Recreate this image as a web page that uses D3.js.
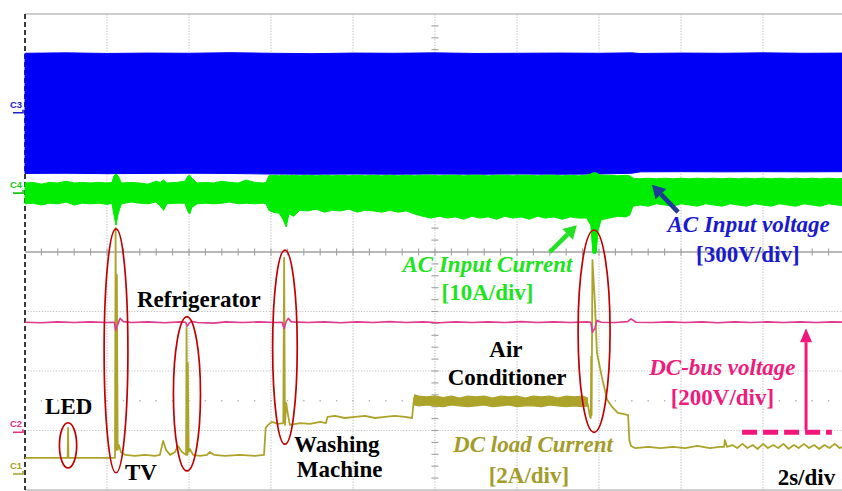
<!DOCTYPE html>
<html>
<head>
<meta charset="utf-8">
<script src="https://cdn.jsdelivr.net/npm/d3@7"></script>
<style>
  html, body { margin: 0; padding: 0; background: #fff; }
  svg { display: block; }
  .lbl { font-family: "Liberation Serif", "Times New Roman", serif; font-weight: bold; font-size: 23px; }
  .it { font-style: italic; }
  .ch { font-family: "Liberation Sans", Arial, sans-serif; font-size: 9.5px; font-weight: bold; }
</style>
</head>
<body>
<svg id="scope" width="842" height="491"></svg>
<script>
// ---- Time base and channel settings -------------------------------------
const timeRange = [0, 20];            // s  (2 s/div, 10 divisions)
const divRange = [-4, 4];             // vertical divisions, centre = 0
const timeTicks = [0, 2, 4, 6, 8, 10, 12, 14, 16, 18, 20];

// volts (or amps) per division and ground marker position (divisions from centre)
const c1PerDiv = 2,   c1Offset = -3.73;   // DC load current  [A]
const c2PerDiv = 200, c2Offset = -3.03;   // DC-bus voltage   [V]
const c3PerDiv = 300, c3Offset = 2.34;    // AC input voltage [V]
const c4PerDiv = 10,  c4Offset = 0.99;    // AC input current [A]

// ---- C3: AC input voltage envelope  [t (s), +peak (V), -peak (V)] --------
const acVoltage = [
  [0, 300, -306], [1, 302, -305], [2, 299, -307], [3, 301, -306], [4, 300, -305],
  [5, 303, -306], [6, 300, -309], [7, 298, -310], [8, 301, -309], [9, 300, -310],
  [10, 302, -309], [11, 299, -310], [12, 300, -309], [13, 301, -310], [14, 300, -309],
  [14.8, 302, -305], [15, 299, -298], [16, 301, -297], [17, 300, -298], [18, 302, -297],
  [19, 300, -298], [20, 301, -297]
];

// ---- C4: AC input current envelope  [t (s), upper (A), lower (A)] --------
const acCurrent = [
  [0, 1.7, -1.8], [0.2, 1.8, -1.7], [0.4, 1.5, -2.0], [0.6, 1.8, -1.7], [0.8, 1.7, -1.8],
  [1.0, 2.0, -1.5], [1.2, 1.7, -2.0], [1.4, 1.8, -1.7], [1.6, 1.7, -1.8], [1.8, 1.8, -1.7],
  [2.0, 1.7, -1.9], [2.12, 1.8, -1.7], [2.17, 2.9, -3.7], [2.22, 3.2, -5.4], [2.27, 2.9, -3.5],
  [2.35, 1.7, -1.8], [2.6, 1.8, -1.5], [2.8, 1.7, -1.7], [3.0, 1.5, -1.8], [3.2, 2.0, -1.5],
  [3.3, 1.8, -2.2], [3.38, 2.2, -2.9], [3.46, 1.7, -1.8], [3.7, 1.8, -1.7], [3.9, 2.0, -1.7],
  [3.98, 2.9, -3.2], [4.02, 3.0, -3.5], [4.07, 2.5, -2.4], [4.2, 1.7, -1.8], [4.4, 1.8, -1.7],
  [4.6, 1.7, -1.8], [4.8, 2.0, -1.7], [5.0, 1.8, -1.5], [5.2, 1.7, -1.8], [5.4, 2.2, -1.7],
  [5.6, 1.8, -1.8], [5.8, 1.7, -1.7], [5.88, 1.8, -1.8], [5.95, 2.9, -2.9], [6.05, 3.0, -3.2],
  [6.2, 2.9, -3.4], [6.3, 3.0, -4.5], [6.37, 3.0, -5.7], [6.44, 2.9, -3.5], [6.55, 3.0, -3.9],
  [6.7, 2.9, -2.9], [6.9, 3.0, -3.0], [7.1, 2.9, -2.7], [7.3, 3.0, -3.2], [7.5, 2.9, -2.9],
  [7.7, 3.0, -3.0], [7.9, 2.9, -2.7], [8.1, 3.0, -3.2], [8.3, 2.9, -2.9], [8.5, 3.0, -3.0],
  [8.7, 2.9, -3.2], [8.9, 3.0, -2.9], [9.1, 2.9, -3.2], [9.3, 3.0, -3.0], [9.5, 2.9, -3.5],
  [9.7, 3.0, -3.9], [9.9, 3.0, -4.2], [10.1, 2.9, -3.9], [10.3, 3.0, -4.2], [10.5, 3.0, -4.0],
  [10.7, 2.9, -4.4], [10.9, 3.0, -3.9], [11.1, 3.0, -4.2], [11.3, 2.9, -4.0], [11.5, 3.0, -4.4],
  [11.7, 3.0, -3.9], [11.9, 2.9, -4.2], [12.1, 3.0, -4.0], [12.3, 3.0, -4.4], [12.5, 2.9, -3.9],
  [12.7, 3.0, -4.2], [12.9, 3.0, -4.0], [13.1, 2.9, -4.4], [13.3, 3.0, -4.0], [13.5, 2.9, -4.2],
  [13.7, 3.0, -4.2], [13.8, 3.2, -5.4], [13.85, 3.4, -10.1], [13.93, 3.4, -10.1], [13.98, 3.2, -6.2],
  [14.05, 3.0, -4.5], [14.25, 3.0, -4.2], [14.45, 2.9, -3.9], [14.65, 3.0, -4.0], [14.75, 2.9, -3.7],
  [14.83, 2.5, -2.2], [15.0, 2.4, -2.0], [15.2, 2.5, -2.2], [15.4, 2.4, -1.8], [15.6, 2.5, -2.0],
  [15.8, 2.4, -2.2], [16.0, 2.5, -1.8], [16.2, 2.4, -2.0], [16.4, 2.5, -2.2], [16.6, 2.4, -1.8],
  [16.8, 2.5, -2.0], [17.0, 2.4, -2.2], [17.2, 2.5, -1.8], [17.4, 2.4, -2.0], [17.6, 2.5, -2.2],
  [17.8, 2.4, -1.8], [18.0, 2.5, -2.0], [18.2, 2.4, -2.2], [18.4, 2.5, -1.8], [18.6, 2.4, -2.0],
  [18.8, 2.5, -2.2], [19.0, 2.4, -1.8], [19.2, 2.5, -2.0], [19.4, 2.4, -2.2], [19.6, 2.5, -1.8],
  [19.8, 2.4, -2.0], [20.0, 2.5, -2.2]
];

// ---- C2: DC-bus voltage  [t (s), V] ----------------------------------------
const dcBus = [
  [0, 370], [0.4, 368], [0.8, 371], [1.2, 369], [1.6, 371], [2.0, 369], [2.18, 370], [2.21, 343],
  [2.26, 362], [2.32, 383], [2.4, 372], [2.6, 369], [3.0, 371], [3.4, 368], [3.8, 371], [3.92, 370],
  [3.95, 356], [4.0, 366], [4.06, 373], [4.2, 369], [4.6, 367], [4.9, 371], [5.3, 369], [5.7, 371],
  [6.1, 369], [6.27, 370], [6.32, 349], [6.37, 372], [6.42, 383], [6.5, 371], [6.9, 369], [7.3, 371],
  [7.7, 368], [8.1, 371], [8.5, 369], [8.9, 372], [9.3, 369], [9.7, 371], [10.1, 368], [10.5, 371],
  [10.9, 369], [11.3, 371], [11.7, 369], [12.1, 372], [12.5, 369], [12.9, 371], [13.3, 369], [13.7, 371],
  [13.8, 370], [13.84, 336], [13.9, 350], [13.95, 376], [14.05, 370], [14.4, 369], [14.7, 372], [14.78, 381],
  [14.9, 370], [15.3, 369], [15.7, 371], [16.1, 369], [16.5, 371], [16.9, 368], [17.3, 371], [17.7, 369],
  [18.1, 371], [18.5, 369], [18.9, 371], [19.3, 369], [19.7, 371], [20, 370]
];

// ---- C1: DC load current  [t (s), A] ---------------------------------------
const dcLoad = [
  [0, 0.54], [1.0, 0.54], [1.04, 0.54], [1.05, 1.55], [1.06, 0.54], [2.195, 0.54],
  [2.21, 8.27], [2.23, 0.81], [2.24, 6.69], [2.26, 0.81], [2.29, 0.97], [2.34, 0.74],
  [2.44, 0.64], [2.68, 0.61], [2.93, 0.64], [3.17, 0.61], [3.29, 0.64], [3.37, 1.11],
  [3.44, 0.81], [3.54, 0.64], [3.66, 0.74], [3.73, 0.94], [3.83, 0.74], [3.93, 0.64],
  [3.94, 4.91], [3.96, 0.64], [3.97, 3.73], [3.99, 0.74], [4.02, 0.84], [4.10, 0.64],
  [4.27, 0.61], [4.44, 0.64], [4.51, 0.74], [4.61, 0.64], [4.88, 0.61], [5.24, 0.64],
  [5.61, 0.61], [5.83, 0.64], [5.87, 1.55], [5.93, 1.65], [6.02, 1.75], [6.17, 1.68],
  [6.30, 1.71], [6.32, 7.26], [6.34, 1.65], [6.37, 2.39], [6.41, 2.02], [6.46, 1.65],
  [6.71, 1.71], [6.95, 1.68], [7.20, 1.75], [7.34, 1.71], [7.38, 1.92], [7.56, 1.95],
  [7.80, 1.88], [8.05, 1.92], [8.29, 1.95], [8.54, 1.88], [8.78, 1.92], [9.02, 1.95],
  [9.27, 1.92], [9.44, 1.88], [9.49, 2.56], [9.54, 2.60], [9.6, 2.45], [10.5, 2.44],
  [11.5, 2.46], [12.5, 2.44], [13.7, 2.42],
  [13.73, 2.32], [13.78, 1.92], [13.80, 1.88], [13.81, 3.94], [13.82, 1.98], [13.84, 7.19],
  [13.90, 5.75], [13.95, 4.07], [14.07, 3.26], [14.20, 2.49], [14.32, 2.25], [14.46, 2.05],
  [14.59, 2.02], [14.71, 1.98], [14.74, 1.14], [14.78, 0.94], [14.88, 0.87], [15.2, 0.91],
  [15.5, 0.87], [15.8, 0.91], [16.1, 0.87], [16.4, 0.94], [16.7, 0.87], [16.95, 0.91],
  [17.05, 0.91], [17.07, 1.14], [17.12, 0.91], [17.25, 0.97], [17.37, 0.87], [17.5, 1.01],
  [17.62, 0.87], [17.75, 0.97], [17.87, 0.84], [18.0, 1.01], [18.12, 0.87], [18.25, 0.97],
  [18.37, 0.87], [18.5, 1.01], [18.62, 0.84], [18.75, 0.97], [18.87, 0.87], [19.0, 1.01],
  [19.12, 0.87], [19.25, 0.97], [19.37, 0.84], [19.5, 0.97], [19.62, 0.87], [19.75, 1.01],
  [19.87, 0.87], [20, 0.94]
];

// ---- C1 ripple while the air conditioner runs  [t (s), upper (A), lower (A)]
const dcLoadRipple = [
  [9.5, 2.66, 2.32], [9.6, 2.62, 2.29], [9.8, 2.59, 2.32], [10.0, 2.62, 2.29], [10.2, 2.57, 2.26],
  [10.4, 2.62, 2.32], [10.6, 2.55, 2.29], [10.8, 2.62, 2.26], [11.0, 2.59, 2.29], [11.2, 2.62, 2.32],
  [11.4, 2.55, 2.26], [11.6, 2.62, 2.29], [11.8, 2.59, 2.32], [12.0, 2.62, 2.26], [12.2, 2.55, 2.29],
  [12.4, 2.62, 2.29], [12.6, 2.59, 2.26], [12.8, 2.62, 2.32], [13.0, 2.55, 2.29], [13.2, 2.62, 2.26],
  [13.4, 2.59, 2.29], [13.6, 2.62, 2.26], [13.72, 2.55, 2.29]
];

// ---- Load events: [name, t centre (s), half width (s), top div, bottom div]
const loadEvents = [
  ["LED", 1.05, 0.21, -2.87, -3.63],
  ["TV", 2.22, 0.29, 0.39, -3.71],
  ["Refrigerator", 3.95, 0.33, -1.09, -3.68],
  ["Washing Machine", 6.34, 0.30, 0.03, -3.23],
  ["Air Conditioner", 13.88, 0.39, 0.37, -3.03]
];

// ---- Text annotations: [text, t (s), div, anchor, colour, italic] --------
const labels = [
  ["LED", 0.49, -2.72, "start", "#000", false],
  ["TV", 2.44, -3.83, "start", "#000", false],
  ["Refrigerator", 2.73, -0.92, "start", "#000", false],
  ["Washing", 6.56, -3.36, "start", "#000", false],
  ["Machine", 6.63, -3.78, "start", "#000", false],
  ["Air", 11.73, -1.76, "middle", "#000", false],
  ["Conditioner", 11.76, -2.24, "middle", "#000", false],
  ["AC Input Current", 11.28, -0.34, "middle", "#1ee41e", true],
  ["[10A/div]", 11.28, -0.81, "middle", "#1ee41e", false],
  ["AC Input voltage", 17.65, 0.34, "middle", "#1a1acd", true],
  ["[300V/div]", 17.63, -0.17, "middle", "#1a1acd", false],
  ["DC-bus voltage", 17.01, -2.07, "middle", "#ee1c7c", true],
  ["[200V/div]", 17.01, -2.57, "middle", "#ee1c7c", false],
  ["DC load Current", 12.39, -3.36, "middle", "#a49c2a", true],
  ["[2A/div]", 12.29, -3.88, "middle", "#a49c2a", false],
  ["2s/div", 19.76, -3.92, "end", "#000", false]
];

// ---- Channel ground markers: [name, offset div, colour] ------------------
const markers = [
  ["C3", c3Offset, "#2020d0"],
  ["C4", c4Offset, "#18c818"],
  ["C2", c2Offset, "#e0308a"],
  ["C1", c1Offset, "#a8a028"]
];

// ---- Scales -----------------------------------------------------------------
const svg = d3.select("#scope");
const x = d3.scaleLinear().domain(timeRange).range([25, 845]);
const yDiv = d3.scaleLinear().domain(divRange).range([490, 14]);
const chanScale = (perDiv, offset) => v => yDiv(offset + v / perDiv);
const y1 = chanScale(c1PerDiv, c1Offset);
const y2 = chanScale(c2PerDiv, c2Offset);
const y3 = chanScale(c3PerDiv, c3Offset);
const y4 = chanScale(c4PerDiv, c4Offset);

// ---- Graticule ---------------------------------------------------------------
const grid = svg.append("g");
const gridColor = "#c4c4c4";
timeTicks.slice(1, -1).forEach(t => {
  grid.append("line").attr("x1", x(t)).attr("x2", x(t)).attr("y1", yDiv(4)).attr("y2", yDiv(-4))
    .attr("stroke", gridColor).attr("stroke-width", 1.2).attr("stroke-dasharray", "1.2,1.6");
});
d3.range(-3, 4).filter(d => d !== 0).forEach(d => {
  grid.append("line").attr("x1", x(0)).attr("x2", 842).attr("y1", yDiv(d)).attr("y2", yDiv(d))
    .attr("stroke", gridColor).attr("stroke-width", 1.2).attr("stroke-dasharray", "1.2,1.6");
});
// sparse dotted half-division row
d3.range(0.4, 20, 0.4).forEach(t => {
  grid.append("rect").attr("x", x(t) - 0.7).attr("y", yDiv(-2.5) - 0.7).attr("width", 1.4).attr("height", 1.4)
    .attr("fill", "#b0b0b0");
});
// centre horizontal axis with minor ticks
grid.append("line").attr("x1", x(0)).attr("x2", 842).attr("y1", yDiv(0)).attr("y2", yDiv(0))
  .attr("stroke", "#a0a0a0").attr("stroke-width", 1.3);
d3.range(0.4, 20, 0.4).forEach(t => {
  grid.append("line").attr("x1", x(t)).attr("x2", x(t)).attr("y1", yDiv(0) - 3.5).attr("y2", yDiv(0) + 3.5)
    .attr("stroke", "#a0a0a0").attr("stroke-width", 1.1);
});
// centre vertical axis ticks
d3.range(-3.8, 4, 0.2).forEach(d => {
  grid.append("line").attr("x1", x(10) - 3.5).attr("x2", x(10) + 3.5).attr("y1", yDiv(d)).attr("y2", yDiv(d))
    .attr("stroke", "#a0a0a0").attr("stroke-width", 1.1);
});
// frame
grid.append("line").attr("x1", x(0)).attr("x2", 842).attr("y1", yDiv(4)).attr("y2", yDiv(4))
  .attr("stroke", "#bcbcbc").attr("stroke-width", 1.6);
grid.append("line").attr("x1", x(0)).attr("x2", 842).attr("y1", yDiv(-4)).attr("y2", yDiv(-4))
  .attr("stroke", "#bcbcbc").attr("stroke-width", 1.6);
grid.append("line").attr("x1", x(0)).attr("x2", x(0)).attr("y1", yDiv(4)).attr("y2", yDiv(-4))
  .attr("stroke", "#3a3a3a").attr("stroke-width", 2).attr("stroke-dasharray", "5,3");

// ---- Channel markers -------------------------------------------------------
markers.forEach(([name, off, col]) => {
  const yy = yDiv(off);
  svg.append("text").attr("class", "ch").attr("x", 10).attr("y", yy - 5).attr("fill", col).text(name);
  svg.append("path").attr("d", `M13,${yy} H23 V${yy - 3}`).attr("fill", "none")
    .attr("stroke", col).attr("stroke-width", 1.6);
});

// ---- Traces ------------------------------------------------------------------
const band = (ys) => d3.area().x(d => x(d[0])).y0(d => ys(d[2])).y1(d => ys(d[1]));
svg.append("path").datum(acVoltage).attr("d", band(y3))
  .attr("fill", "#0000f6").attr("stroke", "#0000f6").attr("stroke-width", 1);
svg.append("path").datum(acCurrent).attr("d", band(y4))
  .attr("fill", "#00ec00").attr("stroke", "#00ec00").attr("stroke-width", 1);

const olive = "#aca42a";
svg.append("path").datum(dcLoadRipple).attr("d", band(y1))
  .attr("fill", olive).attr("stroke", olive).attr("stroke-width", 1.2).attr("stroke-linejoin", "round");
const trace = (ys) => d3.line().x(d => x(d[0])).y(d => ys(d[1]));
svg.append("path").datum(dcLoad).attr("d", trace(y1))
  .attr("fill", "none").attr("stroke", olive).attr("stroke-width", 1.8).attr("stroke-linejoin", "round");
svg.append("path").datum(dcBus).attr("d", trace(y2))
  .attr("fill", "none").attr("stroke", "#e2388c").attr("stroke-width", 1.6).attr("stroke-linejoin", "round");

// ---- Event ellipses -------------------------------------------------------
loadEvents.forEach(([, t, hw, top, bot]) => {
  svg.append("ellipse")
    .attr("cx", x(t)).attr("rx", x(t + hw) - x(t))
    .attr("cy", (yDiv(top) + yDiv(bot)) / 2).attr("ry", (yDiv(bot) - yDiv(top)) / 2)
    .attr("fill", "none").attr("stroke", "#c00000").attr("stroke-width", 1.7);
});

// ---- Arrows --------------------------------------------------------------------
function arrow(x1, yA, x2, yB, col, w, headLen, headW) {
  const ang = Math.atan2(yB - yA, x2 - x1);
  const bx = x2 - headLen * Math.cos(ang), by = yB - headLen * Math.sin(ang);
  svg.append("line").attr("x1", x1).attr("y1", yA).attr("x2", bx).attr("y2", by)
    .attr("stroke", col).attr("stroke-width", w);
  const px = Math.sin(ang) * headW / 2, py = Math.cos(ang) * headW / 2;
  svg.append("polygon")
    .attr("points", `${x2},${yB} ${bx + px},${by - py} ${bx - px},${by + py}`)
    .attr("fill", col);
}
arrow(x(12.8), yDiv(0), x(13.46), yDiv(0.45), "#22e022", 4.5, 13, 15);
arrow(x(15.93), yDiv(0.67), x(15.29), yDiv(1.13), "#1c3c96", 4.5, 13, 15);
arrow(x(19.05), yDiv(-2.99), x(19.05), yDiv(-1.28), "#f0167a", 3, 14, 12);
svg.append("line").attr("x1", x(17.49)).attr("x2", x(19.68)).attr("y1", yDiv(-3.03)).attr("y2", yDiv(-3.03))
  .attr("stroke", "#f0167a").attr("stroke-width", 5).attr("stroke-dasharray", "15,6");

// ---- Text -------------------------------------------------------------------
labels.forEach(([txt, t, d, anchor, col, it]) => {
  svg.append("text").attr("class", "lbl" + (it ? " it" : ""))
    .attr("x", x(t)).attr("y", yDiv(d)).attr("text-anchor", anchor)
    .attr("fill", col).text(txt);
});
</script>
</body>
</html>
